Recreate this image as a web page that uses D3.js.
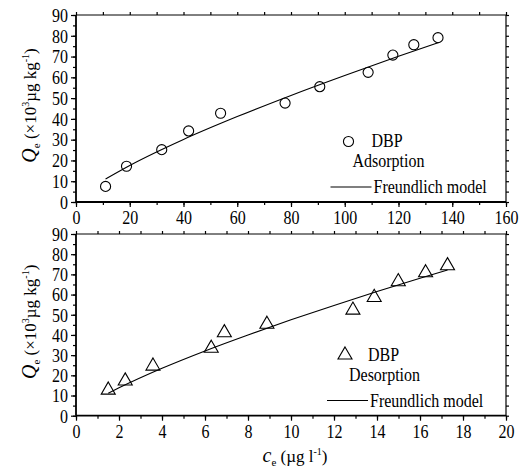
<!DOCTYPE html>
<html>
<head>
<meta charset="utf-8">
<script src="https://cdn.jsdelivr.net/npm/d3@7"></script>
<style>
  body { margin: 0; background: #fff; }
  svg text { font-family: "Liberation Serif", "Times New Roman", serif !important; fill: #000; }
  svg text.tall { transform-box: fill-box; transform-origin: center; transform: scaleY(1.14); }
</style>
</head>
<body>
<div id="chart"></div>
<script>
// adsorption (top panel)
var adsC = [11, 18.8, 31.9, 41.9, 53.8, 77.8, 90.7, 108.7, 117.9, 125.7, 134.7];
var adsQ = [7.5, 17.2, 25.2, 34.2, 42.7, 47.6, 55.5, 62.4, 70.7, 75.7, 79.1];
var adsFitC = [11, 20, 40, 60, 80, 100, 120, 135];
var adsFitQ = [11.1, 17.6, 30.1, 41.1, 51.3, 60.9, 70.1, 76.8];
// desorption (bottom panel)
var desC = [1.5, 2.29, 3.58, 6.29, 6.9, 8.88, 12.88, 13.87, 14.99, 16.26, 17.28];
var desQ = [12.7, 17.2, 24.6, 33.4, 41.1, 45.3, 52.3, 58.6, 66.4, 70.8, 74.3];
var desFitC = [1.5, 2, 4, 6, 8, 10, 12, 14, 16, 17.28];
var desFitQ = [11.1, 13.8, 23.5, 32.1, 40.0, 47.5, 54.6, 61.5, 68.1, 72.2];
// ticks
var yTicks = [0, 10, 20, 30, 40, 50, 60, 70, 80, 90];
var adsXTicks = [0, 20, 40, 60, 80, 100, 120, 140, 160];
var desXTicks = [0, 2, 4, 6, 8, 10, 12, 14, 16, 18, 20];

var W = 522, H = 473;
var svg = d3.select('#chart').append('svg')
	.attr('width', W).attr('height', H)
	.attr('font-family', '"Liberation Serif", serif');

function panel(cfg) {
	var x = d3.scaleLinear().domain([0, cfg.xmax]).range([76, 506]);
	var y = d3.scaleLinear().domain([0, 90]).range([cfg.bottom, cfg.top]);
	var g = svg.append('g');

	// minor ticks on all four sides
	var xMinor = d3.range(0, cfg.xmax + 1e-9, cfg.xminor);
	var yMinor = d3.range(0, 90.001, 5);
	function addAxis(axis, tr, size, fmt, vals) {
		var a = g.append('g').attr('transform', tr)
			.call(axis.tickValues(vals).tickSize(size).tickSizeOuter(0).tickFormat(fmt))
			.attr('font-family', null);
		a.select('.domain').remove();
		a.selectAll('line').attr('stroke', '#000').attr('stroke-width', 1.2);
		return a;
	}
	var none = function () { return ''; };
	addAxis(d3.axisBottom(x), 'translate(0,' + cfg.bottom + ')', 3, none, xMinor);
	addAxis(d3.axisTop(x), 'translate(0,' + cfg.top + ')', 3, none, xMinor);
	addAxis(d3.axisLeft(y), 'translate(76,0)', 3, none, yMinor);
	addAxis(d3.axisRight(y), 'translate(506,0)', 3, none, yMinor);

	var xa = addAxis(d3.axisBottom(x), 'translate(0,' + cfg.bottom + ')', 5, d3.format('d'), cfg.xticks);
	xa.selectAll('text').attr('class', 'tall').attr('font-size', 16).attr('dy', '0.85em').attr('y', 8);
	var ya = addAxis(d3.axisLeft(y), 'translate(76,0)', 5, d3.format('d'), yTicks);
	ya.selectAll('text').attr('class', 'tall').attr('font-size', 16).attr('x', -8).attr('dy', '0.35em');

	// frame
	g.append('line').attr('x1', 76).attr('x2', 506).attr('y1', cfg.top).attr('y2', cfg.top)
		.attr('stroke', '#000').attr('stroke-width', 1);
	g.append('line').attr('x1', 506).attr('x2', 506).attr('y1', cfg.top).attr('y2', cfg.bottom)
		.attr('stroke', '#000').attr('stroke-width', 1.2);
	g.append('line').attr('x1', 76).attr('x2', 506).attr('y1', cfg.bottom).attr('y2', cfg.bottom)
		.attr('stroke', '#000').attr('stroke-width', 1.8);
	g.append('line').attr('x1', 76).attr('x2', 76).attr('y1', cfg.top).attr('y2', cfg.bottom)
		.attr('stroke', '#000').attr('stroke-width', 1.8);

	// fitted model
	var line = d3.line().curve(d3.curveMonotoneX)
		.x(function (d, i) { return x(cfg.fitC[i]); })
		.y(function (d) { return y(d); });
	g.append('path').datum(cfg.fitQ).attr('d', line)
		.attr('fill', 'none').attr('stroke', '#000').attr('stroke-width', 1.1);

	// points
	var sym = d3.symbol().type(cfg.symbol).size(cfg.symSize);
	g.selectAll('path.pt').data(cfg.q).enter().append('path')
		.attr('class', 'pt')
		.attr('d', sym)
		.attr('transform', function (d, i) { return 'translate(' + x(cfg.c[i]) + ',' + y(d) + ')'; })
		.attr('fill', 'none').attr('stroke', '#000').attr('stroke-width', 1.1);

	// legend
	var L = cfg.legend;
	g.append('path').attr('d', sym)
		.attr('transform', 'translate(' + L.sx + ',' + L.sy + ')')
		.attr('fill', 'none').attr('stroke', '#000').attr('stroke-width', 1.1);
	g.append('text').attr('class', 'tall').attr('x', L.sx + 23).attr('y', L.sy + 5).attr('font-size', 16).text('DBP');
	g.append('text').attr('class', 'tall').attr('x', L.sx + 4).attr('y', L.sy + 25).attr('font-size', 16).text(cfg.label);
	g.append('line').attr('x1', L.sx - 18).attr('x2', L.sx + 23)
		.attr('y1', L.sy + 45.5).attr('y2', L.sy + 45.5)
		.attr('stroke', '#000').attr('stroke-width', 1.1);
	g.append('text').attr('class', 'tall').attr('x', L.sx + 25).attr('y', L.sy + 51).attr('font-size', 16).text('Freundlich model');

	// y title
	var cy = (cfg.top + cfg.bottom) / 2 - 3;
	var t = g.append('text').attr('transform', 'translate(36,' + cy + ') rotate(-90)')
		.attr('text-anchor', 'middle').attr('font-size', 17);
	t.append('tspan').attr('font-style', 'italic').attr('font-size', 20).text('Q');
	t.append('tspan').attr('font-size', 11).attr('dy', 4).text('e');
	t.append('tspan').attr('dy', -4).text(' (×10');
	t.append('tspan').attr('font-size', 10).attr('dy', -7).text('3');
	t.append('tspan').attr('dy', 7).text('µg kg');
	t.append('tspan').attr('font-size', 10).attr('dy', -7).text('-1');
	t.append('tspan').attr('dy', 7).text(')');
}

panel({
	top: 15, bottom: 202, xmax: 160, xminor: 10, xticks: adsXTicks,
	c: adsC, q: adsQ, fitC: adsFitC, fitQ: adsFitQ,
	symbol: d3.symbolCircle, symSize: 80, label: 'Adsorption',
	legend: { sx: 348.5, sy: 141.5 }
});
panel({
	top: 234, bottom: 415.7, xmax: 20, xminor: 1, xticks: desXTicks,
	c: desC, q: desQ, fitC: desFitC, fitQ: desFitQ,
	symbol: d3.symbolTriangle, symSize: 85, label: 'Desorption',
	legend: { sx: 345, sy: 355 }
});

// x title
var xt = svg.append('text').attr('x', 295).attr('y', 462)
	.attr('text-anchor', 'middle').attr('font-size', 17);
xt.append('tspan').attr('font-style', 'italic').attr('font-size', 20).text('c');
xt.append('tspan').attr('font-size', 11).attr('dy', 4).text('e');
xt.append('tspan').attr('dy', -4).text(' (µg l');
xt.append('tspan').attr('font-size', 10).attr('dy', -7).text('-1');
xt.append('tspan').attr('dy', 7).text(')');
</script>
</body>
</html>
